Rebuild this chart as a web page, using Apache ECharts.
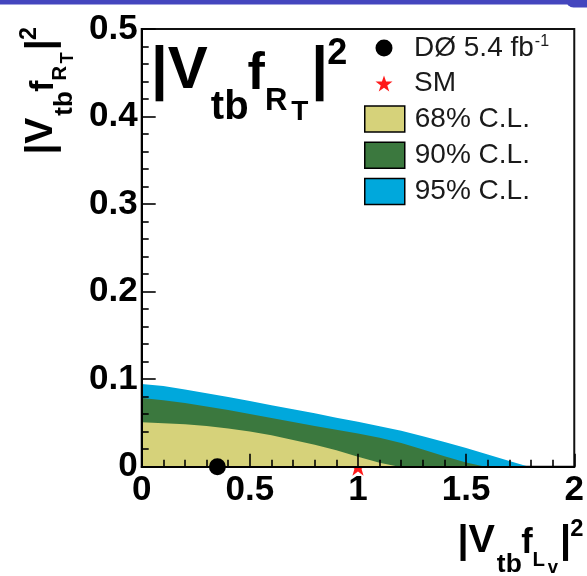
<!DOCTYPE html>
<html>
<head>
<meta charset="utf-8">
<script src="https://cdn.jsdelivr.net/npm/echarts@6/dist/echarts.min.js"></script>
<style>
  html, body { margin: 0; padding: 0; background: #fff; }
  #chart { width: 587px; height: 576px; }
</style>
</head>
<body>
<div id="chart"></div>
<script>
// Allowed-region boundaries in the (|Vtb fLv|^2, |Vtb fRT|^2) plane
const x68 = [0, 0.1, 0.2, 0.3, 0.4, 0.5, 0.6, 0.7, 0.8, 0.9, 1.0, 1.1, 1.19];
const y68 = [0.0507, 0.0497, 0.0484, 0.0465, 0.0437, 0.0402, 0.0358, 0.0305, 0.0250, 0.0188, 0.0115, 0.0045, 0];

const x90 = [0, 0.1, 0.2, 0.3, 0.4, 0.5, 0.6, 0.7, 0.8, 0.9, 1.0, 1.1, 1.2, 1.3, 1.4, 1.5, 1.59];
const y90 = [0.0785, 0.0760, 0.0728, 0.0688, 0.0648, 0.0602, 0.0556, 0.0510, 0.0466, 0.0423, 0.0380, 0.0330, 0.0272, 0.0197, 0.0120, 0.0048, 0];

const x95 = [0, 0.1, 0.2, 0.3, 0.4, 0.5, 0.6, 0.7, 0.8, 0.9, 1.0, 1.1, 1.2, 1.3, 1.4, 1.5, 1.6, 1.7, 1.79];
const y95 = [0.0945, 0.0922, 0.0882, 0.0840, 0.0795, 0.0750, 0.0703, 0.0656, 0.0610, 0.0560, 0.0513, 0.0463, 0.0410, 0.0347, 0.0282, 0.0213, 0.0140, 0.0065, 0];

// Measured value and Standard Model expectation
const measuredPoint = [0.35, 0];
const smPoint = [1, 0];

// Tick labels
const xTickValues = [0, 0.5, 1, 1.5, 2];
const xTickLabels = ['0', '0.5', '1', '1.5', '2'];
const yTickValues = [0, 0.1, 0.2, 0.3, 0.4, 0.5];
const yTickLabels = ['0', '0.1', '0.2', '0.3', '0.4', '0.5'];

const bandNames = ['68% C.L.', '90% C.L.', '95% C.L.'];
const pointNames = ['DØ 5.4 fb⁻¹', 'SM'];

const FONT = 'Liberation Sans';
const STAR = 'path://M50,0 L61.8,35.1 L98.8,35.1 L68.9,56.9 L80.2,92.1 L50,70.5 L19.8,92.1 L31.1,56.9 L1.2,35.1 L38.2,35.1 Z';

const zip = (xs, ys) => xs.map((x, i) => [x, ys[i]]);
const lookup = (vals, labels) => v => {
  const i = vals.findIndex(t => Math.abs(t - v) < 1e-6);
  return i < 0 ? '' : labels[i];
};

// |V_tb f_{A_B}|^2 built from separately placed pieces (base = baseline below the block top)
const measure = document.createElement('canvas').getContext('2d');
function advance(text, size) {
  measure.font = 'bold ' + size + 'px "' + FONT + '"';
  return measure.measureText(text).width;
}
function couplingLabel(x, y, scale, rotation, sub1, sub2) {
  const pieces = [
    { text: '|V', size: 60, base: 62.7, gap: 3 },
    { text: 'tb', size: 40, base: 91.5, gap: -1 },
    { text: 'f',  size: 52, base: 62.7, gap: 0 },
    { text: sub1, size: 31, base: 81.7, gap: 4 },
    { text: sub2, size: 28, base: 91.7, gap: 3 },
    { text: '|',  size: 60, base: 62.7, gap: -1 },
    { text: '2',  size: 36, base: 36.7, gap: 0 }
  ];
  let cursor = 0;
  const children = pieces.map(p => {
    const el = {
      type: 'text', x: cursor, y: p.base - 0.3465 * p.size,
      style: {
        text: p.text, fontFamily: FONT, fontWeight: 'bold', fontSize: p.size,
        fill: '#000', align: 'left', verticalAlign: 'middle'
      }
    };
    cursor += advance(p.text, p.size) + p.gap;
    return el;
  });
  return { type: 'group', x: x, y: y, scaleX: scale, scaleY: scale, rotation: rotation, z: 20, silent: true, children: children };
}

const band = (name, xs, ys, color) => ({
  name: name, type: 'line', data: zip(xs, ys), color: color,
  showSymbol: false, symbol: 'none', z: 2,
  lineStyle: { width: 0 },
  itemStyle: { color: color },
  areaStyle: { color: color, opacity: 1 },
  emphasis: { disabled: true }, silent: true, animation: false
});

const axisLabelStyle = { fontFamily: FONT, fontWeight: 'bold', fontSize: 35, color: '#000' };

const option = {
  animation: false,
  backgroundColor: '#fff',
  grid: {
    left: 141.7, right: 4.7, top: 29, bottom: 109.3,
    show: true, borderColor: '#111', borderWidth: 2, backgroundColor: '#fff'
  },
  xAxis: {
    type: 'value', min: 0, max: 2, interval: 0.5, z: 5,
    axisLine: { show: true, onZero: false, lineStyle: { color: '#000', width: 2 } },
    axisTick: { show: true, inside: true, length: 13, lineStyle: { color: '#000', width: 1.6 } },
    minorTick: { show: true, splitNumber: 5, length: 7, lineStyle: { color: '#000', width: 1.6 } },
    splitLine: { show: false },
    axisLabel: Object.assign({ margin: 6, formatter: lookup(xTickValues, xTickLabels), showMinLabel: true, showMaxLabel: true }, axisLabelStyle)
  },
  yAxis: {
    type: 'value', min: 0, max: 0.5, interval: 0.1, z: 5,
    axisLine: { show: true, onZero: false, lineStyle: { color: '#000', width: 2 } },
    axisTick: { show: true, inside: true, length: 14, lineStyle: { color: '#000', width: 1.6 } },
    minorTick: { show: true, splitNumber: 5, length: 7, lineStyle: { color: '#000', width: 1.6 } },
    splitLine: { show: false },
    axisLabel: Object.assign({ margin: 4, formatter: lookup(yTickValues, yTickLabels), showMinLabel: true, showMaxLabel: true }, axisLabelStyle)
  },
  legend: [
    {
      orient: 'vertical', left: 375.5, top: 34, padding: 0, itemGap: 7.5,
      itemWidth: 17, itemHeight: 17, selectedMode: false,
      data: [{ name: pointNames[0], icon: 'circle' }, { name: pointNames[1], icon: STAR }],
      itemStyle: { borderWidth: 0, opacity: 1 },
      formatter: n => n === pointNames[1] ? '{a|SM}' : '{a|DØ 5.4 fb}{u|-1}',
      textStyle: {
        rich: {
          a: { fontFamily: FONT, fontSize: 28, color: '#1a1a1a', padding: [0, 0, 0, 16.5] },
          u: { fontFamily: FONT, fontSize: 16, color: '#1a1a1a', verticalAlign: 'top', padding: [0, 0, 0, 1] }
        }
      }
    },
    {
      orient: 'vertical', left: 364, top: 105, padding: 0, itemGap: 8.3,
      itemWidth: 40, itemHeight: 26, icon: 'rect', selectedMode: false,
      data: bandNames,
      itemStyle: { borderColor: '#000', borderWidth: 1.5 },
      formatter: n => '{b|' + n + '}',
      textStyle: {
        rich: {
          b: { fontFamily: FONT, fontSize: 28, color: '#1a1a1a', padding: [0, 0, 0, 5] }
        }
      }
    }
  ],
  graphic: [
    // slide header strip
    { type: 'rect', shape: { x: 0, y: 0, width: 587, height: 4.5 }, style: { fill: '#4446be' }, z: 30, silent: true },
    { type: 'rect', shape: { x: 566, y: 0, width: 21, height: 7.5, r: [0, 0, 0, 14] }, style: { fill: '#4446be' }, z: 30, silent: true },
    // in-frame label
    couplingLabel(151, 30, 1, 0, 'R', 'T'),
    // y axis title
    couplingLabel(14.2, 154.6, 0.65, Math.PI / 2, 'R', 'T'),
    // x axis title
    couplingLabel(457.4, 513.6, 0.66, 0, 'L', 'v')
  ],
  series: [
    band(bandNames[2], x95, y95, '#00a8dc'),
    band(bandNames[1], x90, y90, '#3b783e'),
    band(bandNames[0], x68, y68, '#d6d27a'),
    {
      name: pointNames[1], type: 'scatter', data: [smPoint], symbol: STAR, symbolSize: 18,
      itemStyle: { color: '#ff1a1a', opacity: 1 }, z: 1, clip: false, silent: true
    },
    {
      name: pointNames[0], type: 'scatter', data: [measuredPoint], symbol: 'circle', symbolSize: 17,
      itemStyle: { color: '#000', opacity: 1 }, z: 10, clip: false, silent: true
    }
  ]
};

const chart = echarts.init(document.getElementById('chart'), null, { renderer: 'canvas' });
chart.setOption(option);
</script>
</body>
</html>
